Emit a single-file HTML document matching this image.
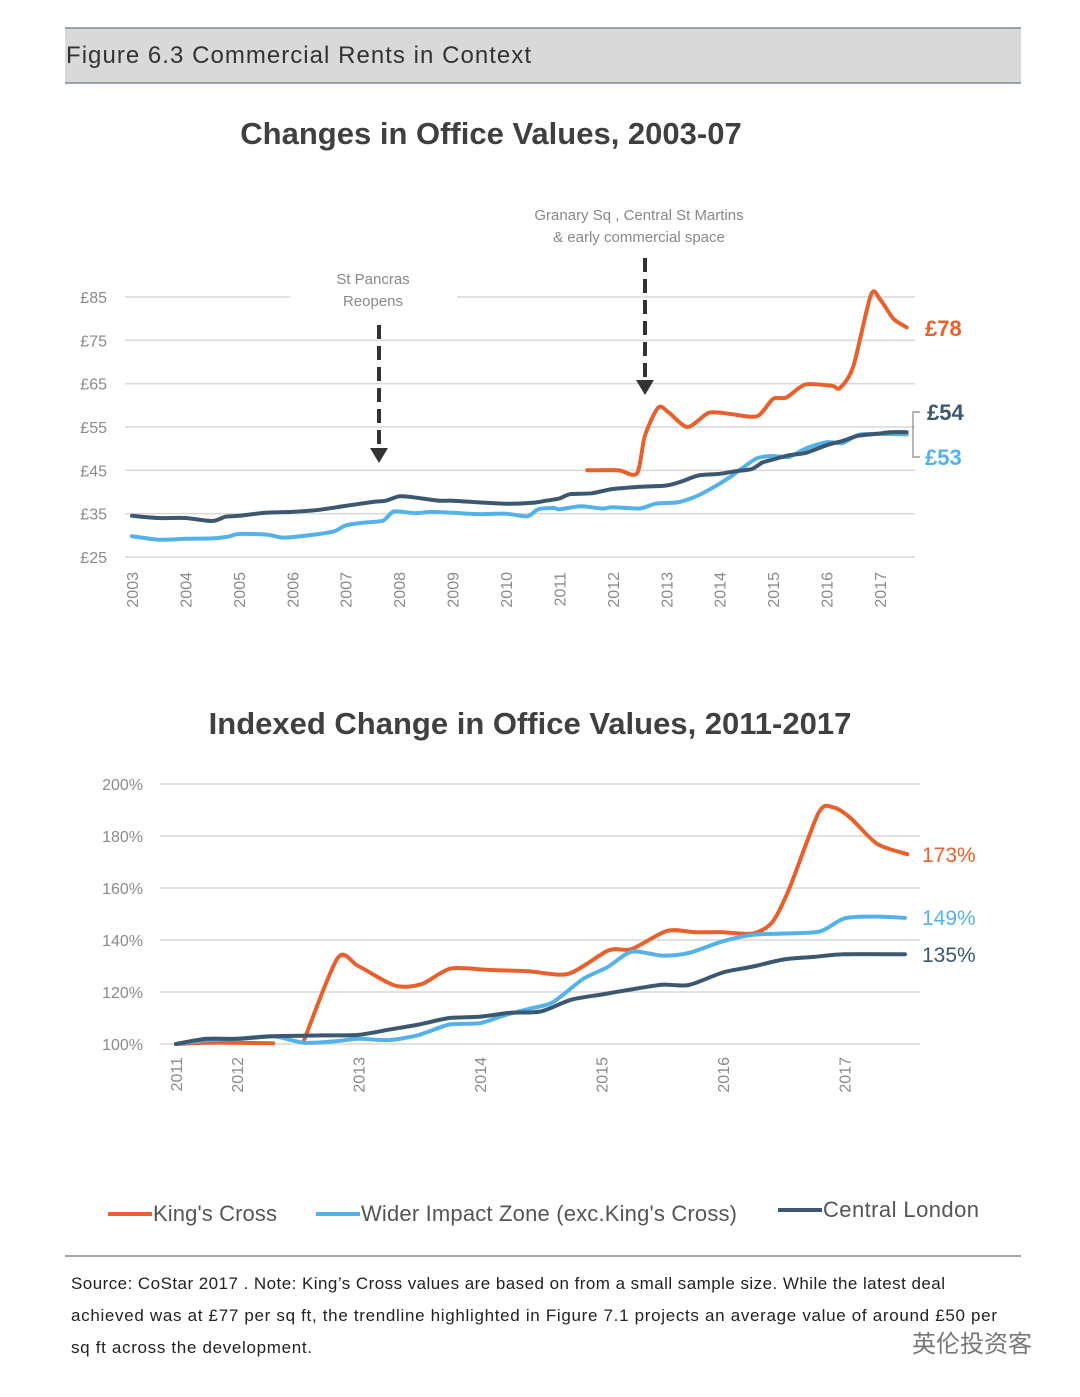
<!DOCTYPE html>
<html><head><meta charset="utf-8"><style>
body{margin:0;background:#fff;width:1080px;height:1392px;overflow:hidden;font-family:"Liberation Sans","Noto Sans CJK SC",sans-serif;}
svg text{font-family:"Liberation Sans","Noto Sans CJK SC",sans-serif;}
</style></head><body>
<svg id="s" width="1080" height="1392" viewBox="0 0 1080 1392">
<rect x="65" y="28" width="956" height="55" fill="#d9d9d9"/>
<line x1="65" y1="28" x2="1021" y2="28" stroke="#7f8a96" stroke-width="1.5"/>
<line x1="65" y1="83" x2="1021" y2="83" stroke="#7f8a96" stroke-width="1.5"/>
<text x="66" y="63" font-size="24" fill="#333" textLength="465">Figure 6.3 Commercial Rents in Context</text>
<text x="491" y="144" font-size="31" font-weight="bold" fill="#404040" text-anchor="middle">Changes in Office Values, 2003-07</text>
<text x="530" y="734" font-size="31" font-weight="bold" fill="#404040" text-anchor="middle">Indexed Change in Office Values, 2011-2017</text>
<g id="top"></g><g id="bot"></g>
<g>
<line x1="108" y1="1214" x2="152" y2="1214" stroke="#e8602c" stroke-width="4"/>
<text x="153" y="1221" font-size="22" fill="#555" textLength="124">King's Cross</text>
<line x1="316" y1="1214" x2="360" y2="1214" stroke="#55b2e8" stroke-width="4"/>
<text x="361" y="1221" font-size="22" fill="#555" textLength="376">Wider Impact Zone (exc.King's Cross)</text>
<line x1="778" y1="1210" x2="822" y2="1210" stroke="#3b5870" stroke-width="4"/>
<text x="823" y="1217" font-size="22" fill="#555" textLength="156">Central London</text>
</g>
<line x1="65" y1="1256" x2="1021" y2="1256" stroke="#7f8a96" stroke-width="1.5"/>
<g font-size="17" fill="#222">
<text x="71" y="1289" textLength="874">Source: CoStar 2017 . Note: King’s Cross values are based on from a small sample size. While the latest deal</text>
<text x="71" y="1321" textLength="926">achieved was at £77 per sq ft, the trendline highlighted in Figure 7.1  projects an average value of around £50 per</text>
<text x="71" y="1353" textLength="241">sq ft across the development.</text>
</g>
<text x="912" y="1352" font-size="24" fill="#777">英伦投资客</text>
</svg>
<script>
// Top chart data
const topYears=[2003,2004,2005,2006,2007,2008,2009,2010,2011,2012,2013,2014,2015,2016,2017];
const topTicks=[85,75,65,55,45,35,25];
const clX=[2003,2003.5,2004,2004.5,2004.75,2005,2005.5,2006,2006.5,2007,2007.5,2007.75,2008,2008.25,2008.75,2009,2009.5,2010,2010.5,2010.75,2011,2011.2,2011.6,2012,2012.5,2013,2013.3,2013.6,2014,2014.3,2014.6,2014.8,2015,2015.3,2015.6,2016,2016.3,2016.6,2017,2017.2,2017.5];
const clV=[34.5,34,34,33.3,34.3,34.5,35.2,35.4,35.9,36.8,37.7,38,39,38.8,38,38,37.6,37.3,37.5,38,38.5,39.5,39.7,40.7,41.2,41.5,42.5,43.8,44.2,44.8,45.3,46.8,47.5,48.5,49,50.8,51.8,53,53.5,53.8,53.8];
const wzX=[2003,2003.5,2004,2004.5,2004.8,2005,2005.5,2005.8,2006,2006.5,2006.8,2007,2007.3,2007.7,2007.9,2008.3,2008.6,2009,2009.5,2010,2010.4,2010.6,2010.9,2011,2011.4,2011.8,2012,2012.5,2012.8,2013.2,2013.5,2013.8,2014.2,2014.4,2014.7,2015,2015.3,2015.6,2016,2016.3,2016.6,2017,2017.5];
const wzV=[29.8,29,29.2,29.3,29.7,30.3,30.2,29.5,29.6,30.3,31,32.3,32.9,33.4,35.5,35.1,35.4,35.2,34.9,35,34.4,36,36.3,36,36.7,36.2,36.5,36.2,37.3,37.6,38.7,40.5,43.5,45.3,47.8,48.3,48.1,50,51.5,51.3,53.2,53.4,53.3];
const kcX=[2011.52,2012.1,2012.45,2012.6,2012.85,2013.05,2013.4,2013.8,2014.2,2014.7,2015.0,2015.25,2015.6,2016.1,2016.25,2016.5,2016.83,2017,2017.25,2017.5];
const kcV=[45,45,44.3,53,59.5,58.3,55,58.3,58,57.5,61.5,61.8,64.8,64.5,64,69,85.5,84.5,80,78];
// Bottom chart data
const botYears=[2011,2012,2013,2014,2015,2016,2017];
const botTicks=[200,180,160,140,120,100];
const bkX=[2011.5,2011.75,2012,2012.3,null,2012.55,2012.83,2013,2013.3,2013.52,2013.76,2014.07,2014.4,2014.73,2015.06,2015.25,2015.54,2015.77,2016,2016.25,2016.41,2016.55,2016.79,2016.91,2017.05,2017.27,2017.52];
const bkV=[100,100.5,100.5,100.3,null,101,133,130,122.5,123,129,128.5,128,127,136,136.5,143.5,143,143,142.5,147,160,189,191,187,177,173];
const bwX=[2011.5,2011.75,2012,2012.3,2012.55,2012.8,2013,2013.25,2013.5,2013.75,2014,2014.2,2014.4,2014.6,2014.85,2015.05,2015.25,2015.5,2015.72,2016,2016.25,2016.5,2016.8,2017,2017.25,2017.5];
const bwV=[100,101.5,102,103,100.5,101,102,101.5,103.5,107.5,108,111,113.5,116,125,129.5,135.5,134,135,139.5,142,142.5,143.3,148.3,149,148.5];
const bcX=[2011.5,2011.75,2012,2012.3,2012.7,2013,2013.25,2013.5,2013.75,2014,2014.25,2014.5,2014.75,2015,2015.25,2015.5,2015.72,2016,2016.25,2016.5,2016.75,2017,2017.5];
const bcV=[100,102,102,103,103.3,103.5,105.5,107.5,110,110.5,112,112.5,117,119,121,122.8,122.7,127.5,129.8,132.5,133.5,134.5,134.5];

const NS="http://www.w3.org/2000/svg";
function mk(p,t,a){const e=document.createElementNS(NS,t);for(const k in a)e.setAttribute(k,a[k]);p.appendChild(e);return e;}
function seg(pts){
  if(pts.length<2)return "";
  let d="M"+pts[0][0].toFixed(1)+","+pts[0][1].toFixed(1);
  for(let i=0;i<pts.length-1;i++){
    const p0=pts[i-1]||pts[i],p1=pts[i],p2=pts[i+1],p3=pts[i+2]||p2,k=1/6*0.8;
    const c1=[p1[0]+(p2[0]-p0[0])*k,p1[1]+(p2[1]-p0[1])*k],c2=[p2[0]-(p3[0]-p1[0])*k,p2[1]-(p3[1]-p1[1])*k];
    d+="C"+c1[0].toFixed(1)+","+c1[1].toFixed(1)+" "+c2[0].toFixed(1)+","+c2[1].toFixed(1)+" "+p2[0].toFixed(1)+","+p2[1].toFixed(1);
  }
  return d;
}
function path(xs,vs,fx,fy){let d="",cur=[];for(let i=0;i<xs.length;i++){if(xs[i]===null){d+=seg(cur);cur=[];continue;}cur.push([fx(xs[i]),fy(vs[i])]);}return d+seg(cur);}

// TOP
const T=document.getElementById('top');
const tx=y=>132+(y-2003)*53.43, ty=v=>557-(v-25)*4.333;
topTicks.forEach(v=>{
  if(v===85){
    const a=mk(T,'line',{x1:125,x2:290,y1:ty(v),y2:ty(v),stroke:'#d9d9d9','stroke-width':1.5});
    
    const b=mk(T,'line',{x1:457,x2:915,y1:ty(v),y2:ty(v),stroke:'#d9d9d9','stroke-width':1.5});
    
  } else {
    const g=mk(T,'line',{x1:125,x2:915,y1:ty(v),y2:ty(v),stroke:'#d9d9d9','stroke-width':1.5});
    
  }
  const t=mk(T,'text',{x:107,y:ty(v)+6,'font-size':16,fill:'#8a8a8a','text-anchor':'end'});t.textContent='£'+v;
  
});
topYears.forEach(y=>{
  const t=mk(T,'text',{x:0,y:0,'font-size':16,fill:'#8a8a8a','text-anchor':'end',transform:`translate(${tx(y)+6},572) rotate(-90)`});t.textContent=y;
  
});
[[wzX,wzV,'#55b2e8','wider-zone-line'],[clX,clV,'#3b5870','central-london-line'],[kcX,kcV,'#e8602c','kings-cross-line']].forEach(s=>{
  const p=mk(T,'path',{d:path(s[0],s[1],tx,ty),fill:'none',stroke:s[2],'stroke-width':4,'stroke-linejoin':'round','stroke-linecap':'round'});
  
});
[[379,325,448,['St Pancras','Reopens'],[284,306]],[645,258,380,['Granary Sq , Central St Martins','& early commercial space'],[220,242]]].forEach(a=>{
  const l=mk(T,'line',{x1:a[0],x2:a[0],y1:a[1],y2:a[2],stroke:'#333','stroke-width':4,'stroke-dasharray':'14,7'});
  
  mk(T,'polygon',{points:`${a[0]-9},${a[2]} ${a[0]+9},${a[2]} ${a[0]},${a[2]+15}`,fill:'#333'});
  a[3].forEach((s,i)=>{const t=mk(T,'text',{x:a[0]-6,y:a[4][i],'font-size':15,fill:'#888','text-anchor':'middle'});t.textContent=s;
    });
});
mk(T,'path',{d:'M920,412 L913,412 L913,457 L920,457',fill:'none',stroke:'#888','stroke-width':1.2});
[[925,336,'£78','#e8602c'],[927,420,'£54','#3b5870'],[925,465,'£53','#55b2e8']].forEach(a=>{
  const t=mk(T,'text',{x:a[0],y:a[1],'font-size':22,'font-weight':'bold',fill:a[3]});t.textContent=a[2];
  
});

// BOTTOM
const B=document.getElementById('bot');
const bx=y=>176+(y-2011.5)*121.5, by=v=>1044-(v-100)*2.6;
botTicks.forEach(v=>{
  const g=mk(B,'line',{x1:160,x2:920,y1:by(v),y2:by(v),stroke:'#d9d9d9','stroke-width':1.5});
  
  const t=mk(B,'text',{x:143,y:by(v)+6,'font-size':16,fill:'#8a8a8a','text-anchor':'end'});t.textContent=v+'%';
  
});
botYears.forEach(y=>{
  const xx=y===2011?176:bx(y);
  const t=mk(B,'text',{x:0,y:0,'font-size':16,fill:'#8a8a8a','text-anchor':'end',transform:`translate(${xx+6},1057) rotate(-90)`});t.textContent=y;
  
});
[[bkX,bkV,'#e8602c','kings-cross-index-line'],[bwX,bwV,'#55b2e8','wider-zone-index-line'],[bcX,bcV,'#3b5870','central-london-index-line']].forEach(s=>{
  const p=mk(B,'path',{d:path(s[0],s[1],bx,by),fill:'none',stroke:s[2],'stroke-width':4,'stroke-linejoin':'round','stroke-linecap':'round'});
  
});
[[922,862,'173%','#e8602c'],[922,925,'149%','#55b2e8'],[922,962,'135%','#3b5870']].forEach(a=>{
  const t=mk(B,'text',{x:a[0],y:a[1],'font-size':21,fill:a[3]});t.textContent=a[2];
  
});
</script>
</body></html>
